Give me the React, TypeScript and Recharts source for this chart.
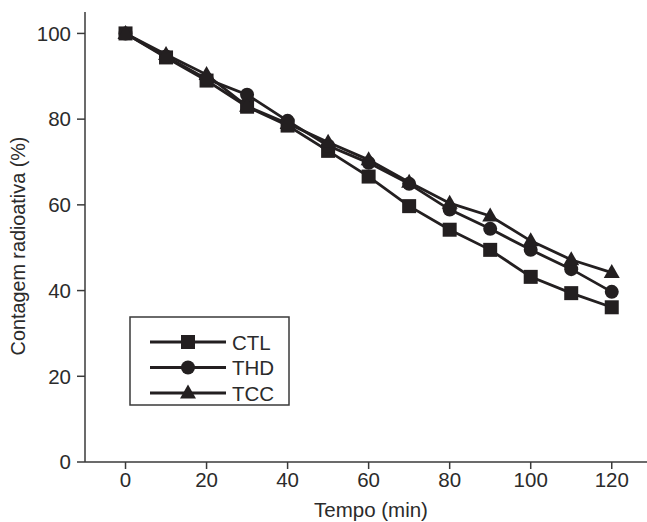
import { LineChart, Line, XAxis, YAxis } from 'recharts'

const tempo = [0, 10, 20, 30, 40, 50, 60, 70, 80, 90, 100, 110, 120]
const ctl = [100, 94.4, 89.0, 82.9, 78.5, 72.6, 66.6, 59.7, 54.2, 49.5, 43.2, 39.4, 36.1]
const thd = [100, 94.6, 89.4, 85.7, 79.6, 73.8, 69.8, 64.9, 58.9, 54.4, 49.5, 45.0, 39.7]
const tcc = [100, 95.1, 90.4, 83.0, 79.0, 74.6, 70.5, 65.3, 60.4, 57.4, 51.6, 47.2, 44.2]

const xTicks = [0, 20, 40, 60, 80, 100, 120]
const yTicks = [0, 20, 40, 60, 80, 100]

const data = tempo.map((t, i) => ({ t, ctl: ctl[i], thd: thd[i], tcc: tcc[i] }))

const INK = '#231f20'
const AXIS = '#3a3a3a'
const TEXT = '#2b2b2b'
const FONT = 'Arial, "Liberation Sans", Helvetica, sans-serif'

type Shape = 'square' | 'circle' | 'triangle'

const Marker = ({ cx, cy, shape }: { cx: number; cy: number; shape: Shape }) => {
  if (shape === 'square') return <rect x={cx - 7} y={cy - 7} width={14} height={14} fill={INK} />
  if (shape === 'circle') return <circle cx={cx} cy={cy} r={7} fill={INK} />
  return <polygon points={`${cx},${cy - 8.5} ${cx - 8},${cy + 5.5} ${cx + 8},${cy + 5.5}`} fill={INK} />
}

const dotFor = (shape: Shape) => (props: any) => {
  const { cx, cy, index } = props
  if (cx == null || cy == null) return <g key={index} />
  return <Marker key={`${shape}-${index}`} cx={cx} cy={cy} shape={shape} />
}

const series: { key: string; name: string; shape: Shape }[] = [
  { key: 'ctl', name: 'CTL', shape: 'square' },
  { key: 'thd', name: 'THD', shape: 'circle' },
  { key: 'tcc', name: 'TCC', shape: 'triangle' },
]

const LegendBox = () => (
  <svg width={162} height={92} style={{ position: 'absolute', left: 129, top: 316 }}>
    <rect x={1} y={1} width={159} height={88} fill="#fff" stroke={AXIS} strokeWidth={1.5} />
    {series.map((s, i) => {
      const y = 26 + i * 25.5
      return (
        <g key={s.key}>
          <line x1={21} x2={97} y1={y} y2={y} stroke={INK} strokeWidth={2.8} />
          <Marker cx={59} cy={y} shape={s.shape} />
          <text x={103} y={y + 7.5} fontSize={20.5} fontFamily={FONT} fill={TEXT}>
            {s.name}
          </text>
        </g>
      )
    })}
  </svg>
)

export default function App() {
  return (
    <div style={{ position: 'absolute', left: 0, top: 0, width: 647, height: 522, background: '#fff' }}>
      <LineChart width={647} height={522} data={data} margin={{ top: 12, right: 0, bottom: 30, left: 25 }}>
        <XAxis
          xAxisId="top"
          orientation="top"
          dataKey="t"
          type="number"
          domain={[-10, 128.7]}
          allowDataOverflow
          tick={false}
          tickLine={false}
          height={0}
          axisLine={{ stroke: AXIS, strokeWidth: 1.5 }}
        />
        <XAxis
          dataKey="t"
          type="number"
          domain={[-10, 128.7]}
          allowDataOverflow
          ticks={xTicks}
          height={30}
          tickSize={7}
          tickMargin={3}
          axisLine={{ stroke: AXIS, strokeWidth: 1.5 }}
          tickLine={{ stroke: AXIS, strokeWidth: 1.5 }}
          tick={{ fontSize: 20.5, fontFamily: FONT, fill: TEXT }}
          label={{
            content: () => (
              <text x={371} y={517} textAnchor="middle" fontSize={20.5} fontFamily={FONT} fill={TEXT}>
                Tempo (min)
              </text>
            ),
          }}
        />
        <YAxis
          type="number"
          domain={[0, 105]}
          allowDataOverflow
          ticks={yTicks}
          width={60}
          tickSize={8}
          tickMargin={6}
          axisLine={{ stroke: AXIS, strokeWidth: 1.5 }}
          tickLine={{ stroke: AXIS, strokeWidth: 1.5 }}
          tick={{ fontSize: 20.5, fontFamily: FONT, fill: TEXT }}
          label={{
            content: () => (
              <text
                transform="translate(25,246) rotate(-90)"
                textAnchor="middle"
                fontSize={19.8}
                fontFamily={FONT}
                fill={TEXT}
              >
                Contagem radioativa (%)
              </text>
            ),
          }}
        />
        {series.map((s) => (
          <Line
            key={s.key}
            dataKey={s.key}
            name={s.name}
            stroke={INK}
            strokeWidth={2.8}
            dot={dotFor(s.shape)}
            activeDot={false}
            isAnimationActive={false}
          />
        ))}
      </LineChart>
      <LegendBox />
    </div>
  )
}
